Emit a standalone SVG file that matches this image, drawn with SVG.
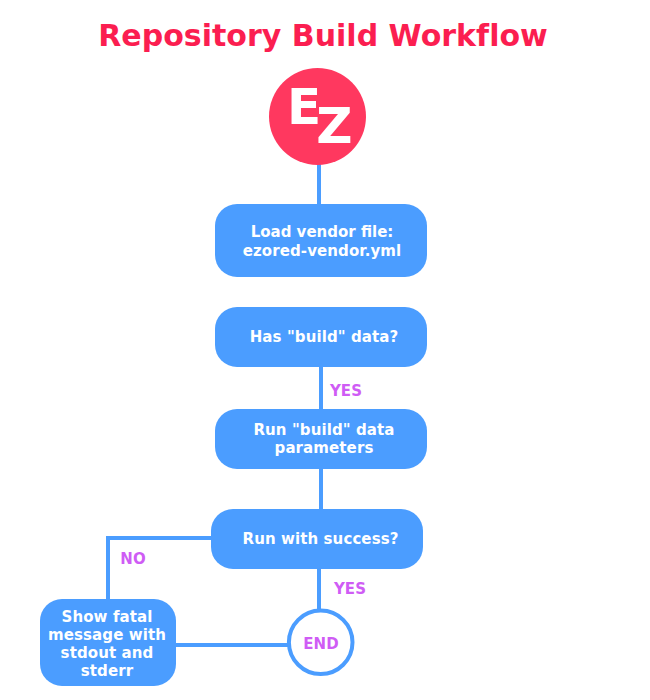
<svg xmlns="http://www.w3.org/2000/svg" width="650" height="700" viewBox="0 0 650 700">
<style>
text{font-family:"DejaVu Sans",Verdana,sans-serif;font-weight:700;text-anchor:middle}
.box{fill:#4b9dff}
.t{fill:#fff;font-size:15px;letter-spacing:.1px}
.lab{fill:#cf5cf5;font-size:15px;letter-spacing:.1px}
.c{fill:none;stroke:#4b9dff;stroke-width:4}
</style>
<rect width="650" height="700" fill="#fff"/>
<text id="title" x="323" y="46" font-size="30" letter-spacing=".02" fill="#fb1e50">Repository Build Workflow</text>
<g id="connectors">
<path class="c" d="M319 164V204"/>
<path class="c" d="M321 367V409"/>
<path class="c" d="M321 469V509"/>
<path class="c" d="M319 569V611"/>
<path class="c" d="M211 538H108V599"/>
<path class="c" d="M176 645H288"/>
</g>
<g id="start">
<circle cx="317.500" cy="116.500" r="48.500" fill="#ff385f"/>
<text x="287" y="124" font-size="50" fill="#fff" style="text-anchor:start">E<tspan dx="-5" dy="19">Z</tspan></text>
</g>
<g id="load">
<rect class="box" x="215" y="204" width="212" height="73" rx="22"/>
<text class="t" x="322" y="237" style="letter-spacing:0">Load vendor file:</text>
<text class="t" x="322" y="256">ezored-vendor.yml</text>
</g>
<g id="has-build">
<rect class="box" x="215" y="307" width="212" height="60" rx="22"/>
<text class="t" x="324" y="342">Has "build" data?</text>
<text class="lab" x="346" y="396">YES</text>
</g>
<g id="run-build">
<rect class="box" x="215" y="409" width="212" height="60" rx="22"/>
<text class="t" x="324" y="435">Run "build" data</text>
<text class="t" x="324" y="453">parameters</text>
</g>
<g id="success">
<rect class="box" x="211" y="509" width="212" height="60" rx="22"/>
<text class="t" x="320.500" y="544">Run with success?</text>
<text class="lab" x="133" y="564">NO</text>
<text class="lab" x="350" y="594">YES</text>
</g>
<g id="fatal">
<rect class="box" x="40" y="599" width="136" height="87" rx="22"/>
<text class="t" x="107" y="622">Show fatal</text>
<text class="t" x="107" y="640">message with</text>
<text class="t" x="107" y="658">stdout and</text>
<text class="t" x="107" y="676">stderr</text>
</g>
<g id="end">
<circle cx="320.700" cy="642.300" r="31.800" fill="#fff" stroke="#4b9dff" stroke-width="4"/>
<text class="lab" x="321" y="649">END</text>
</g>
</svg>
